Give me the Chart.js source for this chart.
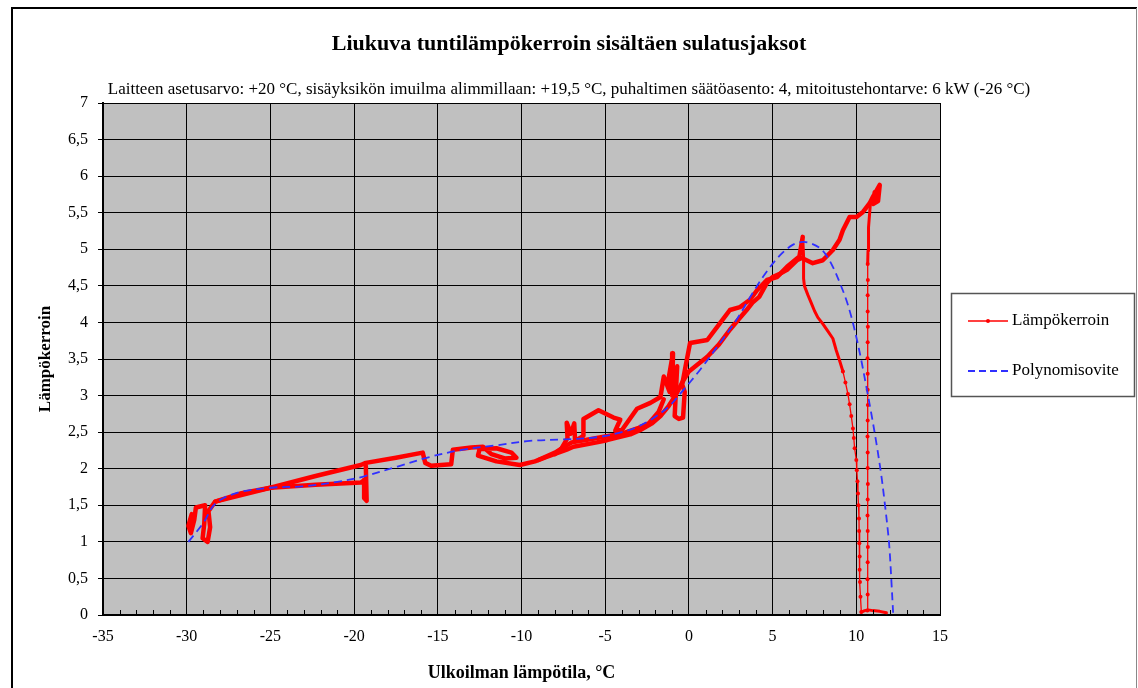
<!DOCTYPE html>
<html>
<head>
<meta charset="utf-8">
<script src="https://cdn.jsdelivr.net/npm/chart.js@4.4.1/dist/chart.umd.min.js"></script>
<style>
html,body{margin:0;padding:0;background:#fff;}
canvas{display:block;}
</style>
</head>
<body>
<canvas id="c" width="1138" height="688"></canvas>
<script>
// ---------- texts ----------
const chartTitle = 'Liukuva tuntilämpökerroin sisältäen sulatusjaksot';
const chartSubtitle = 'Laitteen asetusarvo: +20 °C, sisäyksikön imuilma alimmillaan: +19,5 °C, puhaltimen säätöasento: 4, mitoitustehontarve: 6 kW (-26 °C)';
const xAxisTitle = 'Ulkoilman lämpötila, °C';
const yAxisTitle = 'Lämpökerroin';
const seriesNames = ['Lämpökerroin', 'Polynomisovite'];

// ---------- axis ranges ----------
const xRange = [-35, 15, 5];
const yRange = [0, 7, 0.5];

// ---------- measured series (Lämpökerroin), read from the picture ----------
// cold start, lower branch and spike near -19 °C
const coldStartX = [-29.7, -29.9, -29.75, -29.55, -29.45, -28.9, -28.95, -29.05, -28.75, -28.6, -28.7, -28.3, -26.8, -25.0, -22.3, -19.6, -19.35, -19.4, -19.25, -19.3];
const coldStartY = [1.38, 1.22, 1.12, 1.30, 1.47, 1.50, 1.25, 1.05, 1.00, 1.20, 1.42, 1.55, 1.66, 1.74, 1.78, 1.81, 1.85, 1.60, 1.56, 2.04];

// long upper / lower trace from -28 °C up to the top right
const mainTraceX = [-28.3, -25.0, -22.3, -19.6, -19.3, -17.5, -15.9, -15.75, -15.4, -14.2, -14.1, -13.0, -12.3, -11.8, -11.0, -10.3, -10.6, -11.5, -12.5, -12.6, -11.5, -10.1, -9.2, -8.5, -7.3, -6.9, -5.5, -4.9, -3.5, -2.9, -2.2, -1.7, -1.2, -0.8, -0.4, 0.0, 0.5, 1.1, 1.8, 2.45, 3.0, 3.45, 3.8, 4.2, 4.66, 5.0, 5.4, 5.86, 6.45, 6.75, 7.4, 8.0, 8.6, 9.0, 9.2, 9.6, 10.0, 10.4, 10.8, 11.0, 11.3, 11.4, 11.3, 11.0, 11.1, 11.35];
const mainTraceY = [1.55, 1.74, 1.90, 2.05, 2.08, 2.15, 2.22, 2.08, 2.04, 2.06, 2.26, 2.29, 2.30, 2.20, 2.14, 2.15, 2.22, 2.28, 2.27, 2.18, 2.10, 2.05, 2.10, 2.16, 2.26, 2.30, 2.36, 2.39, 2.47, 2.53, 2.62, 2.72, 2.86, 3.00, 3.18, 3.33, 3.42, 3.53, 3.70, 3.90, 4.05, 4.17, 4.27, 4.35, 4.54, 4.62, 4.66, 4.72, 4.85, 4.88, 4.81, 4.85, 4.99, 5.13, 5.26, 5.44, 5.44, 5.51, 5.63, 5.72, 5.84, 5.88, 5.66, 5.62, 5.78, 5.80];

// second pass through the -9...-1.5 °C band
const bandTraceX = [-9.0, -8.0, -7.0, -6.0, -5.0, -4.0, -3.0, -2.4, -1.8, -1.5];
const bandTraceY = [2.12, 2.22, 2.36, 2.40, 2.44, 2.48, 2.56, 2.62, 2.78, 2.95];

// middle trace with the defrost loops between -8 and 0 °C, up to the 5,2 peak
const midTraceX = [-8.0, -7.6, -7.25, -7.3, -7.05, -6.85, -6.8, -6.3, -6.3, -5.4, -4.5, -4.1, -4.4, -4.0, -3.1, -2.3, -1.7, -1.5, -1.15, -1.2, -0.95, -1.0, -0.7, -0.85, -0.6, -0.35, -0.25, -0.4, -0.2, 0.07, 1.1, 1.86, 2.45, 3.05, 3.65, 4.07, 4.66, 5.26, 5.86, 6.6, 6.8];
const midTraceY = [2.20, 2.28, 2.42, 2.63, 2.48, 2.62, 2.38, 2.45, 2.68, 2.80, 2.70, 2.67, 2.52, 2.53, 2.82, 2.90, 2.98, 3.26, 3.05, 3.25, 3.58, 3.00, 3.40, 2.72, 2.68, 2.70, 3.05, 3.15, 3.40, 3.72, 3.76, 3.99, 4.17, 4.21, 4.31, 4.44, 4.58, 4.62, 4.76, 4.90, 5.17];

// falling branch after the peak: dense upper part, sparse lower part
const fallTopX = [6.8, 6.85, 6.85, 6.9, 7.1, 7.3, 7.5, 7.7, 8.0, 8.3, 8.6, 8.8, 9.0, 9.2];
const fallTopY = [5.17, 4.90, 4.60, 4.50, 4.38, 4.27, 4.16, 4.07, 3.98, 3.88, 3.78, 3.62, 3.48, 3.33];
const fallX = [9.2, 9.35, 9.5, 9.6, 9.7, 9.8, 9.85, 9.9, 10.0, 10.03, 10.07, 10.1, 10.13, 10.16, 10.17, 10.18, 10.2, 10.2, 10.22, 10.25, 10.3];
const fallY = [3.33, 3.18, 3.02, 2.88, 2.72, 2.55, 2.42, 2.28, 2.12, 1.98, 1.83, 1.66, 1.50, 1.32, 1.15, 0.98, 0.80, 0.62, 0.45, 0.25, 0.04];

// near-vertical branch at about +10,7 °C: sparse lower part, dense top
const riseX = [10.66, 10.68, 10.67, 10.68, 10.69, 10.68, 10.67, 10.68, 10.69, 10.68, 10.68, 10.67, 10.68, 10.69, 10.68, 10.68, 10.67, 10.68, 10.69, 10.68, 10.68, 10.69, 10.68];
const riseY = [0.06, 0.28, 0.49, 0.72, 0.93, 1.15, 1.36, 1.58, 1.79, 2.01, 2.22, 2.44, 2.66, 2.87, 3.08, 3.3, 3.51, 3.73, 3.94, 4.15, 4.37, 4.58, 4.8];
const riseTopX = [10.68, 10.7, 10.72, 10.74, 10.8, 10.85];
const riseTopY = [4.8, 4.98, 5.15, 5.3, 5.5, 5.65];

// trace along zero at +10...+12 °C
const bottomX = [10.3, 10.5, 10.7, 11.0, 11.4, 11.8];
const bottomY = [0.04, 0.06, 0.07, 0.06, 0.05, 0.03];

// ---------- fitted polynomial (Polynomisovite) ----------
const fitX = [-29.9, -29.0, -28.3, -27.0, -25.0, -23.0, -21.0, -19.5, -17.4, -15.5, -13.5, -11.5, -9.5, -7.5, -5.5, -4.0, -3.1, -2.2, -1.2, -0.5, 0.66, 1.86, 2.8, 3.8, 4.6, 5.45, 6.2, 6.8, 7.3, 7.8, 8.2, 8.6, 9.0, 9.4, 9.7, 10.0, 10.3, 10.6, 10.9, 11.2, 11.5, 11.7, 11.9, 12.0, 12.1, 12.2];
const fitY = [1.00, 1.26, 1.52, 1.67, 1.74, 1.76, 1.82, 1.89, 2.03, 2.16, 2.26, 2.32, 2.38, 2.40, 2.43, 2.50, 2.57, 2.68, 2.85, 3.03, 3.35, 3.72, 4.02, 4.40, 4.68, 4.92, 5.06, 5.10, 5.08, 5.02, 4.92, 4.76, 4.55, 4.31, 4.08, 3.80, 3.48, 3.12, 2.75, 2.35, 1.90, 1.53, 1.12, 0.85, 0.45, 0.03];

// ---------- build ----------
const pts = (xs, ys) => xs.map((x, i) => ({x: x, y: ys[i]}));
const RED = '#ff0000';
const BLUE = '#3030ff';
const SERIF = "'Liberation Serif', 'Times New Roman', serif";

const thick = (xs, ys, w) => ({
  label: seriesNames[0], data: pts(xs, ys), showLine: true,
  borderColor: RED, backgroundColor: RED, borderWidth: w || 4.5,
  borderCapStyle: 'round', borderJoinStyle: 'round',
  pointRadius: 0, tension: 0, order: 1
});
const thin = (xs, ys) => ({
  label: seriesNames[0], data: pts(xs, ys), showLine: true,
  borderColor: RED, backgroundColor: RED, borderWidth: 1.3,
  pointRadius: 2, pointBorderWidth: 0, pointBackgroundColor: RED,
  tension: 0, order: 1
});

const redSets = [
  thin(fallX, fallY),
  thick(fallTopX, fallTopY, 3),
  thick(coldStartX, coldStartY),
  thick(mainTraceX, mainTraceY),
  thick(bandTraceX, bandTraceY),
  thick(midTraceX, midTraceY),
  thin(riseX, riseY),
  thick(riseTopX, riseTopY, 3),
  thick(bottomX, bottomY, 3)
];
const fitSet = {
  label: seriesNames[1], data: pts(fitX, fitY), showLine: true,
  borderColor: BLUE, backgroundColor: BLUE, borderWidth: 1.8,
  borderDash: [8, 5], pointRadius: 0, tension: 0.35, order: 0
};

const pagePlugin = {
  id: 'page',
  beforeDraw(chart) {
    const {ctx, chartArea: a} = chart;
    ctx.save();
    ctx.fillStyle = '#ffffff';
    ctx.fillRect(0, 0, chart.width, chart.height);
    ctx.fillStyle = '#c0c0c0';
    ctx.fillRect(a.left, a.top, a.right - a.left, a.bottom - a.top);
    // outer frame
    ctx.strokeStyle = '#000';
    ctx.lineWidth = 2;
    ctx.beginPath();
    ctx.moveTo(12, 688); ctx.lineTo(12, 8); ctx.lineTo(1137, 8);
    ctx.stroke();
    ctx.strokeStyle = '#888';
    ctx.lineWidth = 1;
    ctx.beginPath();
    ctx.moveTo(1136.5, 8); ctx.lineTo(1136.5, 688);
    ctx.stroke();
    ctx.restore();
  },
  afterDatasetsDraw(chart) {
    // minor ticks along the x axis, pointing into the plot
    const {ctx, chartArea: a, scales: {x}} = chart;
    ctx.save();
    ctx.strokeStyle = '#000';
    ctx.lineWidth = 1;
    ctx.beginPath();
    for (let v = xRange[0] + 1; v < xRange[1]; v++) {
      if (v % xRange[2] === 0) continue;
      const px = Math.round(x.getPixelForValue(v)) + 0.5;
      ctx.moveTo(px, a.bottom); ctx.lineTo(px, a.bottom - 5);
    }
    ctx.stroke();
    ctx.restore();
  },
  afterDraw(chart) {
    // framed legend at the right, one entry per series name
    const {ctx} = chart;
    const box = {x: 951.5, y: 293.5, w: 183, h: 103};
    ctx.save();
    ctx.fillStyle = '#fff';
    ctx.fillRect(box.x, box.y, box.w, box.h);
    ctx.strokeStyle = '#555';
    ctx.lineWidth = 1.5;
    ctx.strokeRect(box.x, box.y, box.w, box.h);
    seriesNames.forEach((name, i) => {
      const d = chart.data.datasets.find(ds => ds.label === name && !(ds.pointRadius === 0 && !ds.borderDash));
      const y = 321 + i * 50;
      ctx.strokeStyle = d.borderColor;
      ctx.lineWidth = d.borderDash ? 2 : 1.3;
      ctx.setLineDash(d.borderDash ? [7, 4] : []);
      ctx.beginPath();
      ctx.moveTo(968, y); ctx.lineTo(1008, y);
      ctx.stroke();
      ctx.setLineDash([]);
      if (!d.borderDash) {
        ctx.fillStyle = d.borderColor;
        ctx.beginPath(); ctx.arc(988, y, 2, 0, Math.PI * 2); ctx.fill();
      }
      ctx.fillStyle = '#000';
      ctx.font = '17px ' + SERIF;
      ctx.textBaseline = 'middle';
      ctx.textAlign = 'left';
      ctx.fillText(d.label, 1012, y);
    });
    ctx.restore();
  }
};

new Chart(document.getElementById('c'), {
  type: 'scatter',
  data: {datasets: [fitSet, ...redSets]},
  plugins: [pagePlugin],
  options: {
    responsive: false,
    devicePixelRatio: 1,
    animation: false,
    layout: {padding: 0},
    plugins: {
      legend: {display: false},
      tooltip: {enabled: false},
      title: {
        display: true, text: chartTitle, color: '#000',
        font: {family: SERIF, size: 22, weight: 'bold'},
        padding: {top: 30.8, bottom: 0}
      },
      subtitle: {
        display: true, text: chartSubtitle, color: '#000',
        font: {family: SERIF, size: 17},
        padding: {top: 22.6, bottom: 2.8}
      }
    },
    scales: {
      x: {
        type: 'linear', min: xRange[0], max: xRange[1],
        afterFit(s) { s.height = 73; },
        ticks: {stepSize: xRange[2], color: '#000', font: {family: SERIF, size: 16}, padding: 12},
        grid: {color: '#000', lineWidth: 1, drawTicks: false},
        border: {color: '#000', width: 2},
        title: {display: true, text: xAxisTitle, color: '#000',
          font: {family: SERIF, size: 18, weight: 'bold'}, padding: {bottom: 4}}
      },
      y: {
        type: 'linear', min: yRange[0], max: yRange[1],
        afterFit(s) { s.width = 103; },
        ticks: {stepSize: yRange[2], color: '#000', font: {family: SERIF, size: 16}, padding: 10,
          callback: v => String(v).replace('.', ',')},
        grid: {color: '#000', lineWidth: 1, tickLength: 5},
        border: {color: '#000', width: 2},
        title: {display: true, text: yAxisTitle, color: '#000',
          font: {family: SERIF, size: 17, weight: 'bold'}, padding: {top: 35}}
      },
      // empty right-hand band that holds the legend area
      yLegendSpace: {
        type: 'linear', position: 'right', min: yRange[0], max: yRange[1],
        afterFit(s) { s.width = 198; },
        ticks: {display: false},
        grid: {display: false, drawOnChartArea: false},
        border: {display: false}
      }
    }
  }
});
</script>
</body>
</html>
